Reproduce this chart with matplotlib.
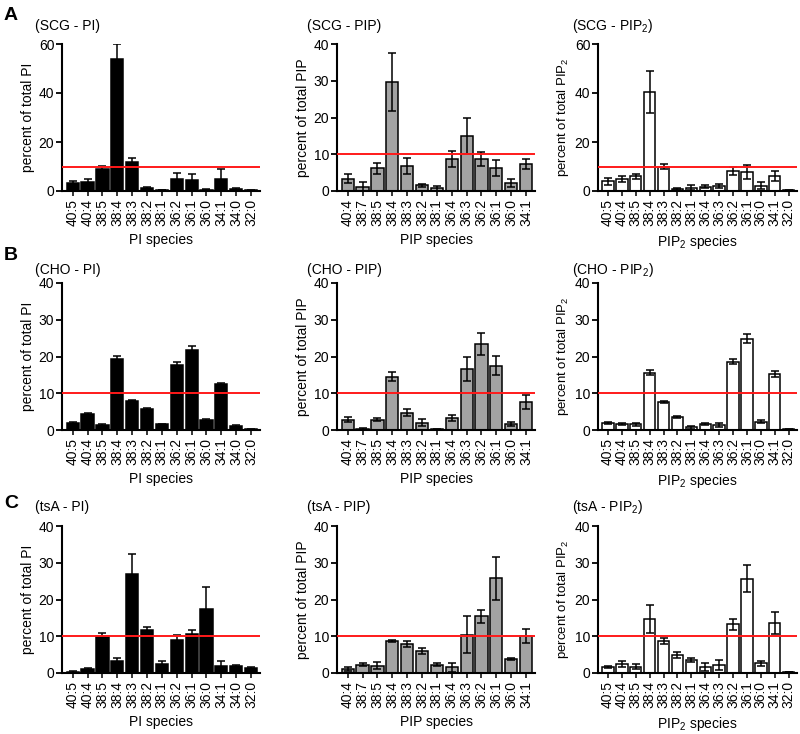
import matplotlib
matplotlib.use("Agg")
import matplotlib.pyplot as plt
import numpy as np

plt.rcParams['font.family'] = ['Liberation Sans', 'DejaVu Sans']
plt.rcParams['mathtext.fontset'] = 'custom'
plt.rcParams['mathtext.rm'] = 'Liberation Sans'
plt.rcParams['mathtext.it'] = 'Liberation Sans:italic'
plt.rcParams['mathtext.bf'] = 'Liberation Sans:bold'

# Categories
pi_species = ["40:5", "40:4", "38:5", "38:4", "38:3", "38:2", "38:1", "36:2", "36:1", "36:0", "34:1", "34:0", "32:0"]
pip_species = ["40:4", "38:7", "38:5", "38:4", "38:3", "38:2", "38:1", "36:4", "36:3", "36:2", "36:1", "36:0", "34:1"]
pip2_species = ["40:5", "40:4", "38:5", "38:4", "38:3", "38:2", "38:1", "36:4", "36:3", "36:2", "36:1", "36:0", "34:1", "32:0"]

# SCG
scg_pi = [3.3, 3.7, 8.8, 54.0, 11.8, 1.2, 0.4, 4.8, 4.3, 0.5, 4.8, 0.8, 0.4]
scg_pi_err = [0.8, 1.0, 1.5, 6.0, 1.5, 0.3, 0.1, 2.5, 2.5, 0.2, 4.0, 0.3, 0.2]
scg_pip = [3.3, 1.2, 6.2, 29.7, 6.7, 1.5, 0.7, 8.7, 15.0, 8.7, 6.3, 2.2, 7.4]
scg_pip_err = [1.2, 1.2, 1.5, 7.8, 2.2, 0.4, 0.7, 2.2, 4.8, 1.8, 2.2, 1.0, 1.3]
scg_pip2 = [4.0, 4.9, 6.0, 40.3, 10.0, 0.8, 1.4, 1.8, 2.0, 8.2, 7.9, 2.2, 6.0, 0.4]
scg_pip2_err = [1.5, 1.2, 1.0, 8.5, 1.0, 0.3, 0.9, 0.6, 0.9, 1.5, 2.8, 1.3, 2.0, 0.2]

# CHO
cho_pi = [2.0, 4.4, 1.3, 19.2, 8.0, 5.8, 1.5, 17.8, 21.9, 2.7, 12.4, 1.1, 0.2]
cho_pi_err = [0.3, 0.3, 0.2, 1.0, 0.2, 0.3, 0.2, 0.7, 1.0, 0.3, 0.4, 0.2, 0.1]
cho_pip = [2.8, 0.3, 2.8, 14.5, 4.7, 2.0, 0.2, 3.3, 16.6, 23.3, 17.5, 1.6, 7.6]
cho_pip_err = [0.7, 0.3, 0.4, 1.3, 1.0, 1.0, 0.2, 0.9, 3.2, 3.0, 2.6, 0.5, 1.9]
cho_pip2 = [1.9, 1.6, 1.5, 15.6, 7.6, 3.5, 0.7, 1.6, 1.4, 18.6, 24.8, 2.3, 15.3, 0.2]
cho_pip2_err = [0.4, 0.3, 0.3, 0.6, 0.3, 0.3, 0.3, 0.3, 0.6, 0.6, 1.2, 0.4, 0.8, 0.1]

# tsA
tsa_pi = [0.3, 1.0, 10.2, 3.4, 27.0, 11.7, 2.5, 9.0, 10.7, 17.3, 2.0, 1.8, 1.3]
tsa_pi_err = [0.2, 0.3, 0.7, 0.7, 5.3, 0.8, 0.7, 1.4, 1.0, 6.2, 1.3, 0.3, 0.3]
tsa_pip = [1.1, 2.2, 2.0, 8.7, 7.8, 6.1, 2.3, 1.6, 10.4, 15.4, 25.8, 3.9, 10.0]
tsa_pip_err = [0.5, 0.4, 1.0, 0.3, 0.8, 0.8, 0.3, 1.2, 5.0, 1.8, 5.8, 0.3, 1.9]
tsa_pip2 = [1.6, 2.4, 1.7, 14.7, 8.7, 5.0, 3.6, 1.6, 2.2, 13.2, 25.7, 2.6, 13.6, 0.3]
tsa_pip2_err = [0.3, 0.9, 0.7, 3.7, 0.9, 0.8, 0.5, 1.0, 1.3, 1.4, 3.6, 0.8, 2.9, 0.1]

threshold = 10

W, H = 800, 734
fig = plt.figure(figsize=(W / 100, H / 100), dpi=100)

cols = [(62, 260), (337, 535), (598, 797)]
rows = [(44, 191), (283, 430), (526, 673)]

kinds = [
    ("PI", pi_species, "black", "PI species", "percent of total PI", 10),
    ("PIP", pip_species, "#a3a3a3", "PIP species", "percent of total PIP", 10),
    ("PIP$_2$", pip2_species, "white", "PIP$_2$ species", "percent of total PIP$_2$", 9.5),
]
cells = ["SCG", "CHO", "tsA"]
data = [
    [(scg_pi, scg_pi_err, 60, 20), (scg_pip, scg_pip_err, 40, 10), (scg_pip2, scg_pip2_err, 60, 20)],
    [(cho_pi, cho_pi_err, 40, 10), (cho_pip, cho_pip_err, 40, 10), (cho_pip2, cho_pip2_err, 40, 10)],
    [(tsa_pi, tsa_pi_err, 40, 10), (tsa_pip, tsa_pip_err, 40, 10), (tsa_pip2, tsa_pip2_err, 40, 10)],
]
letters = ["A", "B", "C"]
letter_y = [16, 255, 503]
title_y = [26, 270, 507]
title_x = [35, 307, 572]

for r in range(3):
    top, bot = rows[r]
    fig.text(4 / W, 1 - letter_y[r] / H, letters[r], fontsize=14, fontweight='bold',
             ha='left', va='center')
    for c in range(3):
        left, right = cols[c]
        ax = fig.add_axes([left / W, 1 - bot / H, (right - left) / W, (bot - top) / H])
        name, cats, color, xlab, ylab, ylsize = kinds[c]
        vals, errs, ymax, ystep = data[r][c]
        x = np.arange(len(cats))
        lower = np.minimum(np.array(errs), np.array(vals))
        ax.bar(x, vals, width=0.82, color=color, edgecolor='black', linewidth=1.1, zorder=2)
        ax.errorbar(x, vals, yerr=[lower, errs], fmt='none', ecolor='black',
                    elinewidth=1.1, capsize=3, capthick=1.1, zorder=3)
        ax.axhline(threshold, color='#ff1a1a', linewidth=1.4, zorder=4)
        ax.set_xlim(-0.72, len(cats) - 0.4)
        ax.set_ylim(0, ymax)
        ax.set_yticks(np.arange(0, ymax + 0.1, ystep))
        ax.set_xticks(x)
        ax.set_xticklabels(cats, rotation=90, fontsize=10)
        ax.tick_params(axis='y', labelsize=10, width=1.3, length=4, pad=1.5)
        ax.tick_params(axis='x', width=1.1, length=3.5, pad=2)
        for s in ['top', 'right']:
            ax.spines[s].set_visible(False)
        for s in ['left', 'bottom']:
            ax.spines[s].set_linewidth(1.5)
        ax.set_xlabel(xlab, fontsize=10, labelpad=5)
        ax.set_ylabel(ylab, fontsize=ylsize, labelpad=3)
        fig.text(title_x[c] / W, 1 - title_y[r] / H, f"({cells[r]} - {name})",
                 fontsize=10, ha='left', va='center')

fig.savefig("out.png", dpi=100)
